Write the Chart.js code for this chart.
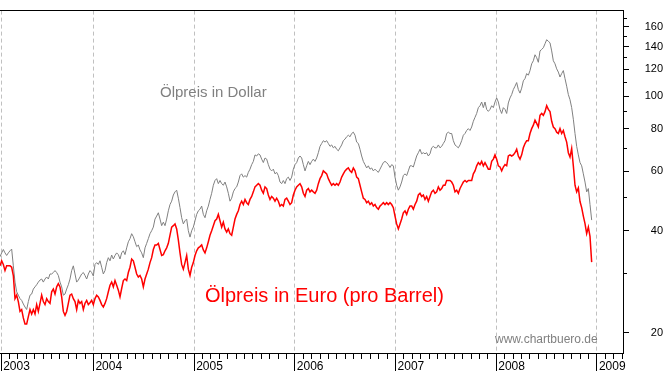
<!DOCTYPE html>
<html>
<head>
<meta charset="utf-8">
<script src="https://cdn.jsdelivr.net/npm/chart.js@4.4.1/dist/chart.umd.min.js"></script>
<style>
  html, body { margin: 0; padding: 0; background: #fff; }
  #wrap { width: 663px; height: 373px; }
</style>
</head>
<body>
<div id="wrap"><canvas id="chart" width="663" height="373"></canvas></div>
<script>
// Readings taken roughly every 6 days, first one mid-January 2003 (decimal years)
const sampleStart = 2003.072;
const sampleStep = 0.016551;

// Ölpreis in Dollar (grey line)
const dollarPrices = [
  33.5, 34.4, 35.2, 34.4, 33.8, 34.4, 34.9, 35.3, 31.5, 28.2,
  26.4, 25.8, 25.2, 24.9, 24.3, 23.8, 23.4, 24.7, 25.8, 26.0,
  26.9, 27.3, 27.7, 28.2, 28.6, 28.8, 28.2, 28.8, 29.2, 28.8,
  29.8, 29.8, 30.1, 30.5, 30.1, 29.5, 28.2, 27.3, 25.8, 26.0,
  26.9, 27.7, 28.8, 30.5, 31.5, 29.8, 28.2, 28.6, 29.2, 29.8,
  30.1, 29.5, 28.8, 29.8,
  30.5, 30.1, 29.4, 31.8, 32.2, 31.8, 32.6, 31.2, 29.8, 30.5,
  32.2, 33.3, 32.6, 33.9, 33.0, 33.8, 34.4, 34.0, 33.0, 34.4,
  34.9, 34.0, 35.6, 37.1, 37.9, 39.2, 38.4, 37.1, 35.9, 36.3,
  35.1, 34.4, 33.3, 35.6, 36.7, 37.9, 39.2, 40.0, 41.0, 43.3,
  44.2, 45.2, 43.3, 41.4, 42.4, 41.4, 43.3, 45.8, 47.8, 48.9,
  51.0, 52.1, 52.7, 49.9, 46.8, 43.7, 41.9, 42.8, 43.3, 40.0,
  38.3, 40.0, 41.0, 42.8, 44.7, 45.8, 46.3, 47.3, 44.7, 43.7,
  45.8, 47.3, 49.5, 51.6, 54.5, 56.3, 57.0, 55.1, 56.3, 55.1,
  54.5, 55.7, 53.9, 51.6, 48.9, 49.9, 52.1, 53.3, 53.9, 55.7,
  58.2, 58.9, 57.6, 58.2, 57.6, 59.5, 60.8, 62.7, 64.1, 67.0,
  66.5, 67.5, 67.0, 65.1, 63.6, 65.6, 65.1, 62.7, 60.8, 60.1,
  60.8, 58.9, 59.5, 58.2, 55.7, 55.1, 56.3, 55.1, 57.0, 57.6,
  56.3, 57.6, 60.8, 62.7, 63.6, 65.6, 66.5, 65.6, 62.7, 60.1,
  62.2, 64.1, 62.7, 64.1, 65.1, 64.1, 65.6, 68.0, 71.0, 72.4,
  73.8, 73.1, 73.8, 72.4, 71.0, 71.7, 70.3, 71.0, 69.6, 68.9,
  70.3, 71.7, 73.8, 74.6, 75.8, 76.6, 75.8, 77.5, 78.2, 76.6,
  73.1, 72.4, 69.6, 66.5, 64.1, 62.7, 61.3, 62.2, 60.8, 61.3,
  60.1, 60.8, 60.1, 59.5, 60.8, 62.2, 63.6, 64.1, 63.6, 62.7,
  61.5, 62.7, 62.2, 57.6, 54.5, 52.7, 53.9, 55.7, 58.2, 58.9,
  58.2, 60.1, 62.2, 62.2, 61.7, 64.1, 66.5, 68.0, 69.6, 67.5,
  68.0, 67.5, 68.0, 66.5, 67.5, 70.3, 71.0, 70.3, 70.3, 71.7,
  70.3, 71.0, 72.4, 73.8, 77.5, 78.2, 77.5, 77.5, 73.8, 71.7,
  71.0, 70.3, 71.7, 73.8, 76.6, 77.5, 79.1, 80.1, 79.1, 81.0,
  84.2, 86.5, 88.8, 92.4, 93.6, 96.0, 92.4, 96.0, 91.3, 90.1,
  91.3, 93.6, 92.4, 96.0, 98.7, 96.0, 91.3, 88.8, 92.4, 91.3,
  88.8, 95.4, 98.7, 101.0, 104.5, 106.9, 109.6, 104.5, 102.0, 105.5,
  110.9, 112.6, 116.5, 115.2, 118.9, 124.5, 127.1, 132.4, 129.8, 125.8,
  135.9, 137.3, 138.9, 142.7, 146.7, 145.1, 143.6, 135.9, 127.1, 124.5,
  120.3, 117.7, 113.8, 116.5, 118.9, 112.6, 106.9, 101.0, 97.5, 92.4,
  85.4, 77.5, 71.0, 67.0, 63.6, 62.2, 58.9, 55.7, 52.1, 53.3,
  47.8, 43.0
];

// Ölpreis in Euro (red line)
const euroPrices = [
  31.5, 32.6, 31.8, 30.5, 31.5, 31.5, 31.5, 31.2, 29.5, 25.2,
  25.8, 24.7, 23.1, 23.4, 22.1, 21.2, 21.2, 22.3, 23.4, 22.7,
  23.4, 22.7, 24.2, 23.1, 24.4, 25.8, 24.7, 24.2, 25.2, 24.7,
  24.4, 26.4, 26.9, 26.0, 27.3, 27.9, 27.3, 25.5, 23.1, 22.5,
  23.1, 24.4, 25.8, 26.0, 25.2, 24.7, 23.4, 24.9, 24.4, 24.7,
  23.4, 24.4, 24.9, 24.2,
  24.5, 24.9, 24.2, 25.2, 25.8, 25.5, 24.9, 24.2, 23.8, 24.4,
  25.2, 26.4, 27.6, 28.2, 27.3, 28.5, 27.6, 26.7, 25.5, 27.0,
  28.5, 28.8, 28.5, 30.1, 31.2, 33.0, 32.6, 31.2, 29.8, 29.2,
  29.5, 28.8, 27.3, 28.8, 29.8, 30.8, 32.2, 33.3, 35.2, 36.3,
  36.3, 36.7, 35.2, 33.8, 34.0, 34.9, 35.6, 36.7, 38.8, 41.0,
  41.4, 41.9, 40.5, 37.6, 34.4, 31.8, 30.8, 32.2, 33.8, 30.8,
  29.5, 31.2, 32.2, 33.8, 34.9, 35.6, 35.9, 36.3, 35.1, 34.4,
  35.6, 37.1, 38.8, 40.0, 41.4, 42.8, 43.3, 44.7, 42.8, 41.0,
  42.4, 40.5, 39.6, 40.5, 39.2, 38.8, 41.0, 43.3, 44.7, 45.8,
  47.8, 48.9, 47.8, 49.5, 48.4, 47.8, 49.5, 50.5, 52.1, 53.9,
  54.5, 55.1, 54.5, 52.7, 51.6, 53.9, 53.3, 51.0, 49.5, 50.5,
  49.9, 48.9, 49.9, 48.9, 47.3, 47.8, 47.3, 49.5, 49.9, 48.9,
  47.8, 48.4, 51.0, 52.7, 53.9, 54.5, 55.1, 53.9, 51.6, 50.5,
  52.7, 53.3, 52.1, 52.7, 52.1, 51.6, 52.7, 55.1, 57.0, 58.2,
  60.1, 59.5, 58.9, 57.0, 55.7, 54.5, 55.1, 54.5, 55.1, 54.5,
  55.7, 57.6, 58.9, 60.1, 60.8, 61.3, 60.1, 59.5, 61.3, 60.1,
  57.6, 57.0, 54.5, 52.1, 49.9, 49.5, 48.4, 48.9, 47.8, 48.4,
  47.3, 47.8, 46.8, 46.3, 47.3, 47.8, 48.4, 47.8, 48.4, 47.8,
  48.4, 47.8, 46.8, 44.2, 41.9, 40.5, 41.9, 43.3, 45.2, 45.8,
  44.7, 46.3, 47.3, 47.3, 46.3, 47.8, 48.9, 51.0, 51.6, 50.5,
  51.0, 49.5, 50.5, 48.9, 50.5, 52.1, 52.7, 51.6, 52.1, 53.9,
  52.7, 53.3, 54.5, 54.5, 56.3, 56.3, 56.3, 55.7, 54.5, 52.1,
  52.7, 51.6, 53.3, 54.5, 55.7, 56.3, 55.7, 56.3, 56.3, 56.3,
  58.9, 60.1, 62.2, 63.6, 62.7, 64.1, 62.2, 63.6, 62.2, 60.8,
  60.8, 64.1, 65.1, 67.0, 65.1, 62.2, 61.7, 60.1, 61.7, 62.7,
  62.2, 66.5, 67.0, 66.5, 67.0, 68.0, 69.6, 66.5, 65.1, 67.0,
  70.3, 72.4, 73.8, 73.8, 77.5, 80.1, 82.0, 84.8, 83.0, 81.0,
  87.7, 88.8, 87.7, 89.9, 93.6, 91.3, 89.9, 84.2, 81.0, 80.1,
  78.2, 77.5, 80.1, 77.5, 79.1, 75.8, 73.1, 68.0, 66.0, 70.0,
  62.2, 54.5, 52.1, 53.5, 48.8, 46.8, 44.2, 42.0, 39.2, 41.0,
  38.5, 32.3
];

// axis ticks
const yearTicks = [2003 + 1 / 12, 2004, 2005, 2006, 2007, 2008, 2009];
const yearLabels = ['2003', '2004', '2005', '2006', '2007', '2008', '2009'];
const priceTicks = [20, 30, 40, 50, 60, 70, 80, 90, 100, 110, 120, 130, 140, 150, 160, 170];
const priceLabels = [20, 40, 60, 80, 100, 120, 140, 160];

const xMin = sampleStart;
const xMax = 2009.2587;
const yMin = 17.41;
const yMax = 178.8;

const FONT = "'Liberation Sans', Arial, sans-serif";

const toPoints = values => values.map((v, i) => ({ x: sampleStart + i * sampleStep, y: v }));

const yearIndex = v => yearTicks.findIndex(t => Math.abs(t - v) < 1e-6);
const isYear = ctx => !!ctx.tick && yearIndex(ctx.tick.value) >= 0;
const isLabelled = ctx => !!ctx.tick && priceLabels.includes(ctx.tick.value);

// Beschriftungen im Chart
const notes = [
  { text: 'Ölpreis in Dollar', x: 160, y: 97, size: 15, color: '#808080' },
  { text: 'Ölpreis in Euro (pro Barrel)', x: 205, y: 302, size: 20, color: '#ff0000' },
  { text: 'www.chartbuero.de', x: 495, y: 343, size: 12, color: '#808080' }
];

const notesPlugin = {
  id: 'notes',
  afterDatasetsDraw(chart) {
    const ctx = chart.ctx;
    ctx.save();
    ctx.textBaseline = 'alphabetic';
    ctx.textAlign = 'left';
    notes.forEach(n => {
      ctx.font = n.size + 'px ' + FONT;
      ctx.fillStyle = n.color;
      ctx.fillText(n.text, n.x, n.y);
    });
    ctx.restore();
  }
};

new Chart(document.getElementById('chart'), {
  type: 'line',
  data: {
    datasets: [
      {
        label: 'Ölpreis in Dollar',
        data: toPoints(dollarPrices),
        borderColor: '#808080',
        borderWidth: 1,
        pointRadius: 0,
        tension: 0,
        order: 2
      },
      {
        label: 'Ölpreis in Euro',
        data: toPoints(euroPrices),
        borderColor: '#ff0000',
        borderWidth: 1.5,
        pointRadius: 0,
        tension: 0,
        order: 1
      }
    ]
  },
  options: {
    responsive: false,
    animation: false,
    events: [],
    layout: { padding: 0 },
    plugins: {
      legend: { display: false },
      tooltip: { enabled: false }
    },
    scales: {
      x: {
        type: 'linear',
        position: 'bottom',
        min: xMin,
        max: xMax,
        afterBuildTicks: scale => {
          const ticks = [];
          for (let yr = 2003; yr <= 2009; yr++) {
            for (let m = 0; m < 12; m++) {
              const v = yr + m / 12;
              if (v >= xMin && v <= xMax) ticks.push({ value: v });
            }
          }
          scale.ticks = ticks;
        },
        afterFit: scale => { scale.height = 20; },
        grid: {
          color: ctx => isYear(ctx) ? '#c0c0c0' : 'rgba(0,0,0,0)',
          tickColor: '#000',
          tickLength: 18,
          tickBorderDash: ctx => isYear(ctx) ? [] : [5, 40],
          lineWidth: 1
        },
        border: { display: true, color: '#000', dash: [4, 3] },
        ticks: {
          autoSkip: false,
          maxRotation: 0,
          minRotation: 0,
          align: 'start',
          labelOffset: 2,
          padding: -12,
          color: '#000',
          font: { family: FONT, size: 12 },
          callback: value => {
            const k = yearIndex(value);
            return k >= 0 ? yearLabels[k] : '';
          }
        }
      },
      y: {
        type: 'logarithmic',
        position: 'right',
        min: yMin,
        max: yMax,
        afterBuildTicks: scale => {
          scale.ticks = priceTicks.map(v => ({ value: v }));
        },
        afterFit: scale => { scale.width = 40; },
        grid: {
          drawOnChartArea: false,
          color: '#000',
          tickColor: '#000',
          tickLength: 6,
          tickBorderDash: ctx => isLabelled(ctx) ? [] : [3, 20]
        },
        border: { display: true, color: '#000' },
        ticks: {
          crossAlign: 'far',
          padding: 4,
          color: '#000',
          font: { family: FONT, size: 11 },
          callback: value => priceLabels.includes(value) ? String(value) : ''
        }
      },
      top: {
        type: 'linear',
        axis: 'x',
        position: 'top',
        display: true,
        grid: { display: false, drawTicks: false },
        ticks: { display: false },
        border: { display: true, color: '#000' },
        afterFit: scale => { scale.height = 0; }
      }
    }
  },
  plugins: [notesPlugin]
});
</script>
</body>
</html>
